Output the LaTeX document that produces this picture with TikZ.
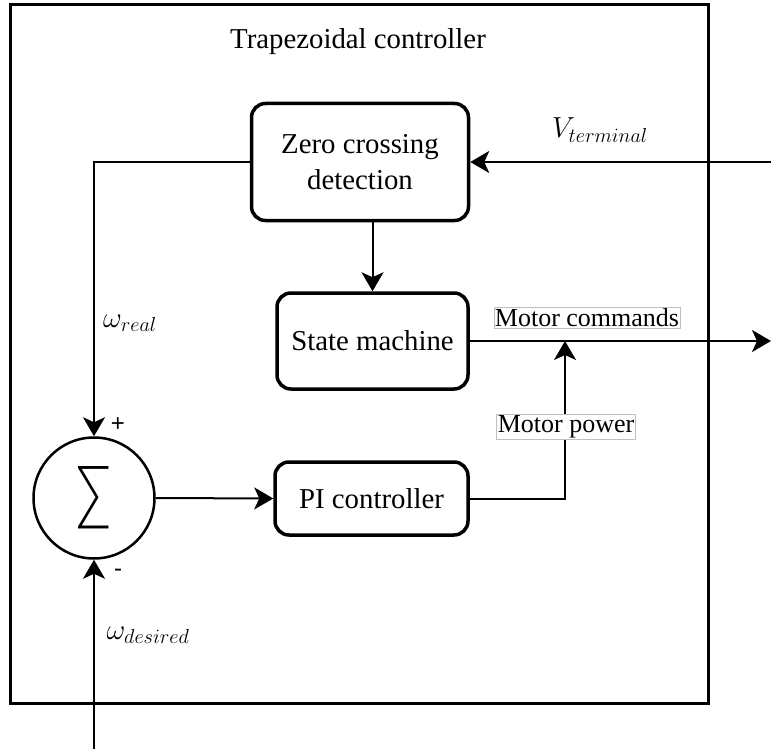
\RequirePackage{fix-cm}
\documentclass[tikz,border=0pt]{standalone}
\usepackage{fontspec}
\setmainfont{Liberation Serif}
\newfontfamily\signfont{Liberation Sans}
\newfontfamily\thinsym{Lato}[UprightFont={* Light}]
\usetikzlibrary{arrows.meta}

\tikzset{
  block/.style={draw, line width=3.5pt, rounded corners=14pt, fill=white,
    align=center, inner sep=0pt, font=\fontsize{28.8}{36}\selectfont},
  conn/.style={line width=2pt, -{Stealth[length=19pt,width=22pt,inset=5pt]}},
  tag/.style={draw=black!25, line width=0.8pt, fill=white, inner sep=1pt,
    font=\fontsize{26}{30}\selectfont},
  mathlbl/.style={inner sep=0pt, font=\fontsize{29}{34}\selectfont},
  sign/.style={inner sep=0pt, font=\signfont\fontsize{24}{28}\selectfont},
}

\begin{document}
\begin{tikzpicture}[x=1pt,y=-1pt]
\useasboundingbox (0,0) rectangle (771,749);

% enclosing controller frame and its title
\draw[line width=3pt] (10,5) rectangle (708,703);
\node[inner sep=0pt, font=\fontsize{28.8}{34}\selectfont] (title) at (358,42) {Trapezoidal controller};

% blocks
\node[block, minimum width=217pt, minimum height=117pt] (zcd) at (360,162) {Zero crossing\\detection};
\node[block, minimum width=191pt, minimum height=96pt] (sm) at (372.5,341) {State machine};
\node[block, minimum width=193pt, minimum height=73pt] (pi) at (371.5,498.5) {PI controller};
\node[circle, draw, line width=2.5pt, minimum size=121pt, inner sep=0pt] (sum) at (94,498)
  {\resizebox{35pt}{50pt}{\thinsym ∑}};

% free ends of connectors
\coordinate (vin) at (771,162);
\coordinate (cmdout) at (771,341);
\coordinate (wdin) at (94,749);
\coordinate (join) at (565,341);

% connectors
\draw[conn] (vin) -- (zcd.east |- vin);
\draw[conn] (zcd.west) -| (sum.north);
\draw[conn] (sm.north |- zcd.south) -- (sm.north);
\draw[conn] (sm.east) -- (cmdout);
\draw[conn] (sum.east) -- (pi.west);
\draw[conn] (pi.east) -| (join);
\draw[conn] (wdin) -- (sum.south);

% labels
\node[tag] (mcmd) at (587,318) {Motor commands};
\node[tag] (mpow) at (566,427) {Motor power};
\node[mathlbl] (vt) at (600,130) {$V_{terminal}$};
\node[mathlbl] (wr) at (130,323) {$\omega_{real}$};
\node[mathlbl] (wd) at (148,635) {$\omega_{desired}$};
\node[sign] (plus) at (118,425) {+};
\node[sign] (minus) at (118,573) {-};
\end{tikzpicture}
\end{document}
